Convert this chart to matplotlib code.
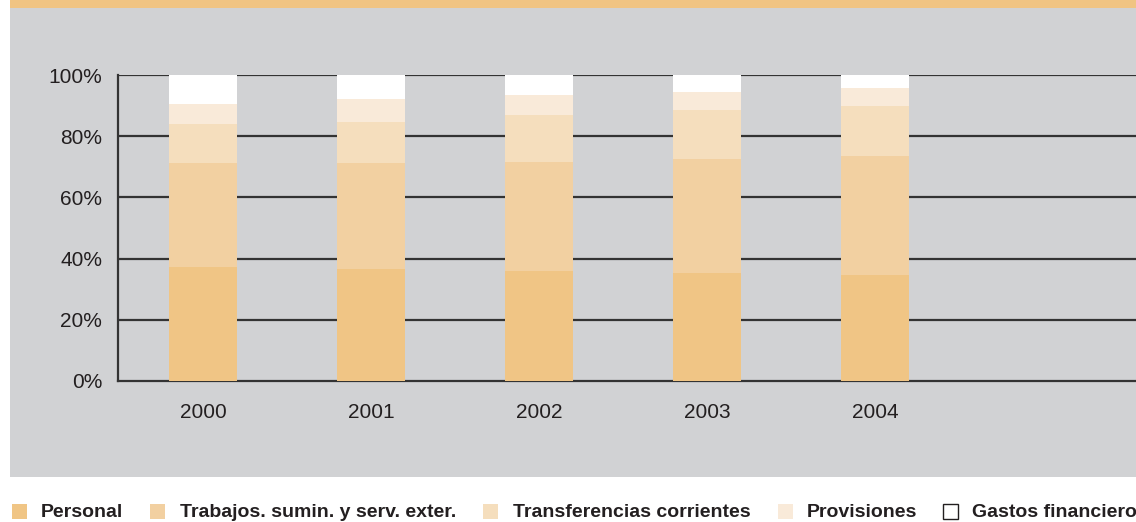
import matplotlib
matplotlib.use("Agg")
import matplotlib.pyplot as plt
from matplotlib.patches import Rectangle
import numpy as np

plt.rcParams['font.family'] = ['Liberation Sans', 'DejaVu Sans']

years = ["2000", "2001", "2002", "2003", "2004"]
series = ["Personal", "Trabajos. sumin. y serv. exter.", "Transferencias corrientes",
          "Provisiones", "Gastos financieros"]
personal = [37.3, 36.6, 35.9, 35.3, 34.6]
trabajos = [33.9, 34.6, 35.7, 37.2, 38.9]
transferencias = [12.8, 13.4, 15.3, 16.1, 16.4]
provisiones = [6.5, 7.6, 6.6, 5.8, 5.9]
gastos = [9.5, 7.8, 6.5, 5.6, 4.2]
values = [personal, trabajos, transferencias, provisiones, gastos]
colors = ["#F0C585", "#F2D0A1", "#F5DEBD", "#F9EAD9", "#FFFFFF"]

W, H = 1136, 522
fig = plt.figure(figsize=(W / 100, H / 100), dpi=100)
fig.patch.set_facecolor("white")

# gray panel and orange band
fig.patches.append(Rectangle((10 / W, (H - 477) / H), 1 - 10 / W, (477 - 8) / H,
                             transform=fig.transFigure, facecolor="#D1D2D4",
                             edgecolor="none", zorder=-10))
fig.patches.append(Rectangle((10 / W, (H - 8) / H), 1 - 10 / W, 8 / H,
                             transform=fig.transFigure, facecolor="#F0C483",
                             edgecolor="none", zorder=-10))

ax = fig.add_axes([118 / W, (H - 381) / H, (W - 118) / W, 306 / H])
ax.set_zorder(1)
ax.set_facecolor("none")
x = np.arange(len(years))
bottom = np.zeros(len(years))
for vals, c in zip(values, colors):
    ax.bar(x, vals, bottom=bottom, width=0.405, color=c, edgecolor="none", zorder=3)
    bottom += np.array(vals)

ax.set_xlim(-0.506, 5.554)
ax.set_ylim(0, 100)
ax.set_yticks([0, 20, 40, 60, 80, 100])
ax.set_yticklabels([f"{v}%" for v in [0, 20, 40, 60, 80, 100]])
ax.set_xticks(x)
ax.set_xticklabels(years)
for v in [20, 40, 60, 80, 100]:
    ax.axhline(v, color="#333333", lw=1.6, zorder=1)
for s in ["top", "right"]:
    ax.spines[s].set_visible(False)
for s in ["left", "bottom"]:
    ax.spines[s].set_color("#333333")
    ax.spines[s].set_linewidth(1.6)
    ax.spines[s].set_zorder(1)
ax.tick_params(axis="both", length=0, labelsize=15, colors="#231F20")
ax.tick_params(axis="y", pad=11.5)
ax.tick_params(axis="x", pad=16)

# legend
sq_x = [12, 150, 483, 778, 943]
tx_x = [41, 180, 513, 807, 972]
for name, c, sx, tx in zip(series, colors, sq_x, tx_x):
    ec = "#231F20" if c == "#FFFFFF" else "none"
    fig.patches.append(Rectangle((sx / W, (H - 519) / H), 15 / W, 15 / H,
                                 transform=fig.transFigure, facecolor=c,
                                 edgecolor=ec, lw=1.0))
    fig.text(tx / W, (H - 517) / H, name, ha="left", va="baseline",
             fontsize=14, fontweight="bold", color="#231F20")

fig.savefig("out.png", dpi=100)
